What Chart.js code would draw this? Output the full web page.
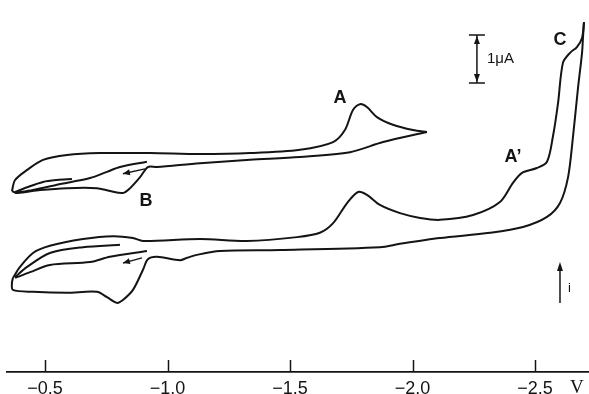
<!DOCTYPE html>
<html><head><meta charset="utf-8">
<script src="https://cdn.jsdelivr.net/npm/chart.js@4.4.1/dist/chart.umd.min.js"></script>
<style>html,body{margin:0;padding:0;background:#fff;} #wrap{width:589px;height:394px;position:relative;}</style>
</head><body><div id="wrap"><canvas id="c"></canvas></div>
<script>
// Potential axis ticks (V)
const tickValues = [-0.5, -1.0, -1.5, -2.0, -2.5];
const tickLabels = ['\u22120.5', '\u22121.0', '\u22121.5', '\u22122.0', '\u22122.5'];

// Traces: [potential V, current µA (arbitrary offset)]
const upperForward = [[-0.365,3.77],[-0.378,4.00],[-0.427,4.21],[-0.492,4.42],[-0.590,4.52],[-0.724,4.56],[-0.929,4.56],[-1.133,4.54],[-1.337,4.56],[-1.541,4.63],[-1.676,4.79],[-1.724,5.04],[-1.757,5.46],[-1.786,5.58],[-1.814,5.52],[-1.855,5.31],[-1.920,5.15],[-2.002,5.04],[-2.059,5.00]];
const upperReturn = [[-2.059,5.00],[-1.880,4.79],[-1.745,4.58],[-1.541,4.48],[-1.337,4.42],[-1.133,4.35],[-0.957,4.27],[-0.920,4.27],[-0.888,4.06],[-0.847,3.83],[-0.818,3.73],[-0.765,3.77],[-0.712,3.83],[-0.590,3.83],[-0.480,3.79],[-0.386,3.73],[-0.365,3.77]];
const upperInner = [[-0.610,4.02],[-0.549,4.00],[-0.492,3.96],[-0.427,3.85],[-0.378,3.75]];
const upperMiddle = [[-0.378,3.73],[-0.451,3.79],[-0.549,3.90],[-0.684,4.04],[-0.753,4.17],[-0.806,4.27],[-0.916,4.38]];

const lowerForward = [[-0.369,1.96],[-0.398,2.19],[-0.451,2.48],[-0.520,2.63],[-0.655,2.77],[-0.778,2.83],[-0.859,2.79],[-0.900,2.73],[-1.133,2.77],[-1.324,2.73],[-1.529,2.81],[-1.622,2.90],[-1.676,3.10],[-1.733,3.52],[-1.778,3.75],[-1.814,3.69],[-1.867,3.48],[-1.949,3.31],[-2.031,3.21],[-2.112,3.17],[-2.247,3.27],[-2.357,3.54],[-2.410,3.94],[-2.447,4.15],[-2.508,4.25],[-2.549,4.38],[-2.573,4.90],[-2.594,5.60],[-2.614,6.44],[-2.643,6.65],[-2.671,6.77],[-2.692,6.96],[-2.700,7.29]];
const lowerReturn = [[-2.700,7.29],[-2.696,6.98],[-2.692,6.65],[-2.676,5.94],[-2.655,4.90],[-2.635,4.06],[-2.602,3.52],[-2.549,3.23],[-2.451,3.02],[-2.316,2.90],[-2.112,2.79],[-1.949,2.67],[-1.867,2.60],[-1.459,2.54],[-1.214,2.52],[-1.120,2.44],[-1.080,2.38],[-1.051,2.33],[-0.957,2.40],[-0.920,2.35],[-0.900,2.13],[-0.859,1.71],[-0.818,1.50],[-0.794,1.44],[-0.753,1.56],[-0.712,1.67],[-0.590,1.65],[-0.451,1.67],[-0.369,1.71],[-0.365,1.85],[-0.369,1.96]];
const lowerInner = [[-0.806,2.65],[-0.655,2.60],[-0.520,2.48],[-0.427,2.19],[-0.378,1.98]];
const lowerMiddle = [[-0.378,1.96],[-0.439,2.08],[-0.520,2.23],[-0.684,2.29],[-0.765,2.40],[-0.916,2.52]];

// Annotations (data units)
const scanArrows = [
  {from:[-0.908,4.23], to:[-0.818,4.13]},
  {from:[-0.896,2.38], to:[-0.818,2.27]}
];
const peakLabels = [
  {text:'A', at:[-1.704,5.71]},
  {text:'B', at:[-0.912,3.56]},
  {text:'C', at:[-2.602,6.92]},
  {text:'A\u2019', at:[-2.410,4.48]}
];
const scaleBar = {v:-2.263, top:7.02, size:1.0, label:'1\u03bcA'};
const currentArrow = {v:-2.602, from:1.44, to:2.29, label:'i'};

const traces = [upperForward, upperReturn, upperInner, upperMiddle, lowerForward, lowerReturn, lowerInner, lowerMiddle];
const INK = '#141414';

function arrowHead(ctx, x1, y1, x2, y2, len, half) {
  const a = Math.atan2(y2 - y1, x2 - x1);
  ctx.beginPath();
  ctx.moveTo(x2, y2);
  ctx.lineTo(x2 - len*Math.cos(a) + half*Math.sin(a), y2 - len*Math.sin(a) - half*Math.cos(a));
  ctx.lineTo(x2 - len*Math.cos(a) - half*Math.sin(a), y2 - len*Math.sin(a) + half*Math.cos(a));
  ctx.closePath();
  ctx.fill();
}

const annot = {
  id: 'annot',
  afterDraw(chart) {
    const {ctx, scales:{x, y}} = chart;
    ctx.save();
    ctx.strokeStyle = INK; ctx.fillStyle = INK;
    // inward tick marks
    ctx.lineWidth = 1.5;
    x.ticks.forEach(t => {
      const px = Math.round(x.getPixelForValue(t.value)) + 0.5;
      ctx.beginPath(); ctx.moveTo(px, x.top); ctx.lineTo(px, x.top - 12); ctx.stroke();
    });
    // unit label V
    ctx.font = '19px "Liberation Serif", serif';
    ctx.textAlign = 'center'; ctx.textBaseline = 'top';
    ctx.fillText('V', x.getPixelForValue(-2.671), x.top + 7);
    // scan direction arrows
    ctx.lineWidth = 1.3;
    scanArrows.forEach(a => {
      const x1 = x.getPixelForValue(a.from[0]), y1 = y.getPixelForValue(a.from[1]);
      const x2 = x.getPixelForValue(a.to[0]), y2 = y.getPixelForValue(a.to[1]);
      ctx.beginPath(); ctx.moveTo(x1, y1); ctx.lineTo(x2, y2); ctx.stroke();
      arrowHead(ctx, x1, y1, x2, y2, 7, 3);
    });
    // scale bar
    const sx = x.getPixelForValue(scaleBar.v);
    const sy1 = y.getPixelForValue(scaleBar.top), sy2 = y.getPixelForValue(scaleBar.top - scaleBar.size);
    ctx.lineWidth = 1.5;
    ctx.beginPath();
    ctx.moveTo(sx, sy1); ctx.lineTo(sx, sy2);
    ctx.moveTo(sx - 8, sy1); ctx.lineTo(sx + 8, sy1);
    ctx.moveTo(sx - 8, sy2); ctx.lineTo(sx + 8, sy2);
    ctx.stroke();
    arrowHead(ctx, sx, sy1 + 20, sx, sy1 + 1, 8, 3);
    arrowHead(ctx, sx, sy2 - 20, sx, sy2 - 1, 8, 3);
    ctx.font = '15px "Liberation Sans", Arial, sans-serif';
    ctx.textAlign = 'left'; ctx.textBaseline = 'middle';
    ctx.fillText(scaleBar.label, sx + 10, (sy1 + sy2) / 2);
    // current direction arrow
    const cx = x.getPixelForValue(currentArrow.v);
    const cy1 = y.getPixelForValue(currentArrow.from), cy2 = y.getPixelForValue(currentArrow.to);
    ctx.lineWidth = 1.5;
    ctx.beginPath(); ctx.moveTo(cx, cy1); ctx.lineTo(cx, cy2 + 6); ctx.stroke();
    arrowHead(ctx, cx, cy1, cx, cy2, 9, 3);
    ctx.font = '13px "Liberation Sans", Arial, sans-serif';
    ctx.textAlign = 'left'; ctx.textBaseline = 'middle';
    ctx.fillText(currentArrow.label, cx + 8, (cy1 + cy2) / 2 + 6);
    // peak labels
    ctx.font = 'bold 18px "Liberation Sans", Arial, sans-serif';
    ctx.textAlign = 'center'; ctx.textBaseline = 'middle';
    peakLabels.forEach(l => ctx.fillText(l.text, x.getPixelForValue(l.at[0]), y.getPixelForValue(l.at[1])));
    ctx.restore();
  }
};

new Chart(document.getElementById('c'), {
  type: 'scatter',
  data: {
    datasets: traces.map(t => ({
      data: t.map(([v, i]) => ({x: v, y: i})),
      showLine: true,
      borderColor: INK,
      borderWidth: 2,
      pointRadius: 0,
      tension: 0.3,
      fill: false,
      clip: false
    }))
  },
  options: {
    responsive: true,
    maintainAspectRatio: false,
    animation: false,
    events: [],
    layout: {padding: {left: 7, right: 0, top: 0, bottom: 0}},
    plugins: {legend: {display: false}, tooltip: {enabled: false}},
    scales: {
      x: {
        type: 'linear',
        reverse: true,
        min: -2.7204,
        max: -0.3449,
        afterBuildTicks: s => { s.ticks = tickValues.map(v => ({value: v})); },
        afterFit: s => { s.height = 22; },
        grid: {display: false, drawTicks: false},
        border: {display: true, color: INK, width: 1.8},
        ticks: {
          autoSkip: false,
          maxRotation: 0,
          padding: 6,
          color: INK,
          font: {family: '"Liberation Sans", Arial, sans-serif', size: 18},
          callback: (val, idx) => tickLabels[idx]
        }
      },
      y: {
        type: 'linear',
        display: false,
        min: 0,
        max: 7.75
      }
    }
  },
  plugins: [annot]
});
</script>
</body></html>
